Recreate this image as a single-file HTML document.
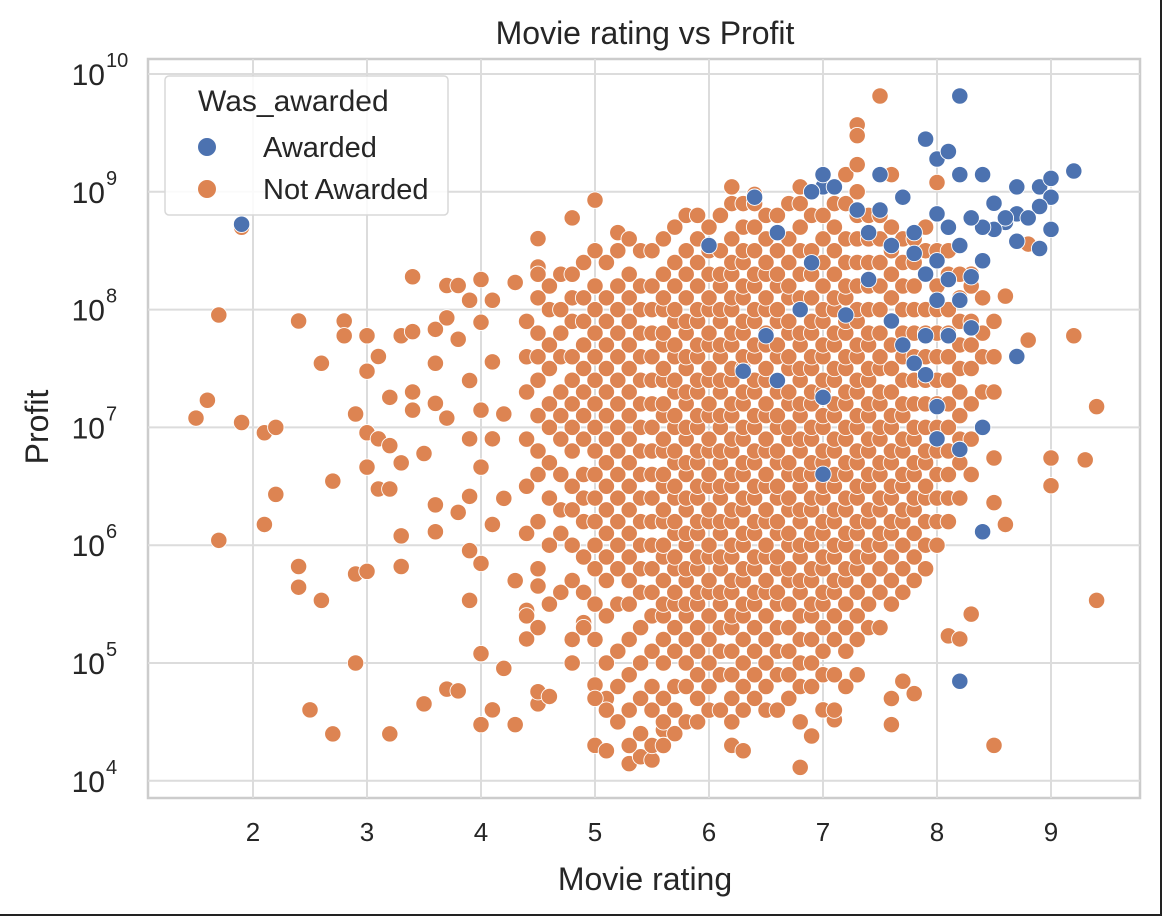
<!DOCTYPE html>
<html><head><meta charset="utf-8">
<style>
html,body{margin:0;padding:0;background:#fff;}
body{width:1162px;height:916px;overflow:hidden;font-family:"Liberation Sans",sans-serif;}
#frame{position:absolute;left:0;top:0;width:1160px;height:914px;border-right:2px solid #222;border-bottom:2px solid #222;}
</style></head><body>
<div id="frame"></div>
<svg id="chart" width="1162" height="916" style="position:absolute;left:0;top:0">
<text x="645" y="44" text-anchor="middle" font-size="32" fill="#262626">Movie rating vs Profit</text>
<text x="645" y="890" text-anchor="middle" font-size="32" fill="#262626">Movie rating</text>
<text x="0" y="0" transform="translate(48,427) rotate(-90)" text-anchor="middle" font-size="32" fill="#262626">Profit</text>
<g id="grid"></g><g id="marks"></g><g id="ticks"></g>
</svg>
<script>
const NS='http://www.w3.org/2000/svg';
const xTicks=[2,3,4,5,6,7,8,9];
const yTickExps=[4,5,6,7,8,9,10];
// outlier / sparse orange points
const orangeRating=[1.5,1.6,1.7,1.7,1.9,1.9,2.1,2.2,2.1,2.2,2.4,2.4,2.4,2.5,2.6,2.6,2.7,2.7,2.8,2.8,2.9,2.9,2.9,3.0,3.0,3.0,3.0,3.0,3.1,3.1,3.1,3.2,3.2,3.2,3.2,3.3,3.3,3.3,3.3,3.4,3.4,3.4,3.4,3.5,3.5,3.6,3.6,3.6,3.6,3.6,3.7,3.7,3.7,3.7,3.8,3.8,3.8,3.8,3.9,3.9,3.9,3.9,3.9,3.9,4.0,4.0,4.0,4.0,4.0,4.0,4.0,4.1,4.1,4.1,4.1,4.1,4.2,4.2,4.2,4.3,4.3,4.3,4.4,4.4,4.5,4.5,4.5,4.5,4.5,4.5,4.6,4.8,4.8,4.9,5.0,5.0,5.0,5.1,5.1,5.2,5.3,5.4,5.5,5.6,6.2,6.3,6.8,6.9,7.1,7.0,7.6,7.7,7.8,7.6,8.5,8.3,8.1,8.2,8.6,8.5,8.5,9.0,9.0,9.3,9.4,9.4,9.2,8.8,8.8,7.5,7.3,7.3,7.2,7.3,7.6,6.2,6.4,6.8,8.0,8.3,8.6];
const orangeProfit=[1.2e7,1.7e7,9e7,1.1e6,5e8,1.1e7,9e6,1e7,1.5e6,2.7e6,8e7,6.6e5,4.4e5,4e4,3.5e7,3.4e5,3.5e6,2.5e4,8e7,6e7,1.3e7,5.7e5,1e5,6e7,3e7,9e6,4.6e6,6e5,4e7,8e6,3e6,1.8e7,3e6,2.5e4,7e6,5e6,1.2e6,6.6e5,6e7,1.9e8,6.5e7,2e7,1.4e7,4.5e4,6e6,6.8e7,3.5e7,1.6e7,2.2e6,1.3e6,1.6e8,8.5e7,1.2e7,6e4,1.6e8,5.6e7,5.8e4,1.9e6,1.2e8,2.5e7,8e6,2.6e6,9e5,3.4e5,1.8e8,7.8e7,1.4e7,4.6e6,7e5,1.2e5,3e4,4e4,1.2e8,3.6e7,8e6,1.5e6,9e4,2.5e6,1.3e7,1.7e8,3e4,5e5,2.8e5,1.6e5,4e8,2.3e8,4.5e4,5.7e4,4.5e5,2e5,5.2e4,6e8,1e5,2.2e5,8.5e8,6.5e4,2e4,5e4,1.8e4,4.5e8,1.4e4,1.6e4,1.5e4,2.7e4,2e4,1.8e4,1.3e4,2.4e4,3.3e4,4e4,5e4,7e4,5.5e4,3e4,2e4,2.6e5,1.7e5,1.6e5,1.5e6,2.3e6,5.5e6,5.5e6,3.2e6,5.3e6,1.5e7,3.4e5,6e7,5.5e7,3.6e8,6.5e9,3.7e9,3e9,1.4e9,1.7e9,1.4e9,1.1e9,9.5e8,1.1e9,1.2e9,2e8,1.3e8];
// dense core columns (rating) and log10 profit lists
const coreRating=[4.4,4.5,4.6,4.7,4.8,4.9,5.0,5.1,5.2,5.3,5.4,5.5,5.6,5.7,5.8,5.9,6.0,6.1,6.2,6.3,6.4,6.5,6.6,6.7,6.8,6.9,7.0,7.1,7.2,7.3,7.4,7.5,7.6,7.7,7.8,7.9,8.0,8.1,8.2,8.3,8.4,8.5];
const coreLogProfit=[
[5.4,6.1,6.5,6.9,7.3,7.6,7.9],
[5.3,5.8,6.2,6.6,6.8,7.1,7.4,7.6,7.8,8.1,8.3],
[5.5,6.0,6.4,6.7,7.0,7.2,7.5,7.7,8.0,8.2],
[5.6,6.1,6.3,6.6,6.9,7.1,7.3,7.6,7.8,8.0,8.3],
[5.2,5.7,6.0,6.3,6.5,6.8,7.0,7.2,7.4,7.6,7.9,8.1,8.3],
[5.3,5.6,5.9,6.2,6.4,6.6,6.9,7.1,7.3,7.5,7.7,7.9,8.1,8.4],
[4.7,5.2,5.5,5.8,6.0,6.2,6.4,6.6,6.8,7.0,7.2,7.4,7.6,7.8,8.0,8.2,8.5],
[4.6,5.0,5.4,5.7,5.9,6.1,6.3,6.5,6.7,6.9,7.1,7.3,7.5,7.7,7.9,8.1,8.4],
[4.5,4.8,5.1,5.5,5.8,6.0,6.2,6.4,6.6,6.8,7.0,7.2,7.4,7.6,7.8,8.0,8.2,8.5],
[4.3,4.6,4.9,5.2,5.5,5.7,5.9,6.1,6.3,6.5,6.7,6.9,7.1,7.3,7.5,7.7,7.9,8.1,8.3,8.6],
[4.4,4.7,5.0,5.3,5.6,5.8,6.0,6.2,6.4,6.6,6.8,7.0,7.2,7.4,7.6,7.8,8.0,8.2,8.5],
[4.3,4.6,4.8,5.1,5.4,5.6,5.8,6.0,6.2,6.4,6.6,6.8,7.0,7.2,7.4,7.6,7.8,8.0,8.2,8.5],
[4.3,4.5,4.7,5.0,5.2,5.4,5.5,5.7,5.9,6.0,6.2,6.3,6.5,6.6,6.8,6.9,7.1,7.2,7.4,7.5,7.7,7.8,8.0,8.1,8.3,8.6],
[4.4,4.6,4.8,5.1,5.3,5.5,5.6,5.8,5.9,6.1,6.2,6.4,6.5,6.7,6.8,7.0,7.1,7.3,7.4,7.6,7.7,7.9,8.0,8.2,8.4,8.7],
[4.5,4.8,5.0,5.2,5.4,5.5,5.7,5.8,6.0,6.1,6.3,6.4,6.6,6.7,6.9,7.0,7.2,7.3,7.5,7.6,7.8,7.9,8.1,8.3,8.5,8.8],
[4.5,4.7,4.9,5.1,5.3,5.5,5.6,5.8,5.9,6.1,6.2,6.4,6.5,6.7,6.8,7.0,7.1,7.3,7.4,7.6,7.7,7.9,8.0,8.2,8.4,8.6,8.8],
[4.6,4.8,5.0,5.2,5.4,5.6,5.7,5.9,6.0,6.2,6.3,6.5,6.6,6.8,6.9,7.1,7.2,7.4,7.5,7.7,7.8,8.0,8.1,8.3,8.5,8.7],
[4.6,4.9,5.1,5.3,5.5,5.6,5.8,5.9,6.1,6.2,6.4,6.5,6.7,6.8,7.0,7.1,7.3,7.4,7.6,7.7,7.9,8.0,8.2,8.3,8.5,8.8],
[4.5,4.7,4.9,5.1,5.3,5.4,5.6,5.7,5.9,6.0,6.2,6.3,6.5,6.6,6.8,6.9,7.1,7.2,7.4,7.5,7.7,7.8,8.0,8.1,8.3,8.4,8.6,8.9],
[4.6,4.8,5.0,5.2,5.4,5.5,5.7,5.8,6.0,6.1,6.3,6.4,6.6,6.7,6.9,7.0,7.2,7.3,7.5,7.6,7.8,7.9,8.1,8.2,8.4,8.5,8.7,8.9],
[4.7,4.9,5.1,5.3,5.5,5.6,5.8,5.9,6.1,6.2,6.4,6.5,6.7,6.8,7.0,7.1,7.3,7.4,7.6,7.7,7.9,8.0,8.2,8.3,8.5,8.7,8.9],
[4.6,4.8,5.0,5.2,5.4,5.6,5.7,5.9,6.0,6.2,6.3,6.5,6.6,6.8,6.9,7.1,7.2,7.4,7.5,7.7,7.8,8.0,8.1,8.3,8.4,8.6,8.8],
[4.6,4.9,5.1,5.3,5.5,5.6,5.8,5.9,6.1,6.2,6.4,6.5,6.7,6.8,7.0,7.1,7.3,7.4,7.6,7.7,7.9,8.0,8.2,8.3,8.5,8.8],
[4.7,4.9,5.1,5.3,5.5,5.7,5.8,6.0,6.1,6.3,6.4,6.6,6.7,6.9,7.0,7.2,7.3,7.5,7.6,7.8,7.9,8.1,8.2,8.4,8.6,8.9],
[4.5,4.8,5.0,5.2,5.4,5.6,5.7,5.9,6.0,6.2,6.3,6.5,6.6,6.8,6.9,7.1,7.2,7.4,7.5,7.7,7.8,8.0,8.1,8.3,8.5,8.7,8.9],
[4.8,5.0,5.2,5.4,5.5,5.7,5.8,6.0,6.1,6.3,6.4,6.6,6.7,6.9,7.0,7.2,7.3,7.5,7.6,7.8,7.9,8.1,8.3,8.5,8.8],
[4.9,5.1,5.3,5.5,5.6,5.8,5.9,6.1,6.2,6.4,6.5,6.7,6.8,7.0,7.1,7.3,7.4,7.6,7.7,7.9,8.0,8.2,8.4,8.6,8.8],
[4.6,4.9,5.2,5.4,5.6,5.7,5.9,6.0,6.2,6.3,6.5,6.6,6.8,6.9,7.1,7.2,7.4,7.5,7.7,7.8,8.0,8.1,8.3,8.5,8.7,8.9],
[4.8,5.1,5.3,5.5,5.7,5.8,6.0,6.1,6.3,6.4,6.6,6.7,6.9,7.0,7.2,7.3,7.5,7.6,7.8,7.9,8.1,8.2,8.4,8.6,8.9],
[4.9,5.2,5.4,5.6,5.8,5.9,6.1,6.2,6.4,6.5,6.7,6.8,7.0,7.1,7.3,7.4,7.6,7.7,7.9,8.0,8.2,8.4,8.6,8.8,9.0],
[5.3,5.5,5.7,5.9,6.0,6.2,6.3,6.5,6.6,6.8,6.9,7.1,7.2,7.4,7.5,7.7,7.8,8.0,8.2,8.4,8.6,8.8],
[5.3,5.6,5.8,6.0,6.1,6.3,6.4,6.6,6.7,6.9,7.0,7.2,7.3,7.5,7.6,7.8,8.0,8.2,8.4,8.6,8.8],
[5.5,5.7,5.9,6.1,6.2,6.4,6.5,6.7,6.8,7.0,7.1,7.3,7.5,7.7,7.9,8.1,8.3,8.5,8.7],
[5.6,5.8,6.0,6.2,6.3,6.5,6.6,6.8,6.9,7.1,7.2,7.4,7.6,7.8,8.0,8.2,8.4,8.6],
[5.7,5.9,6.1,6.3,6.4,6.6,6.7,6.9,7.0,7.2,7.4,7.6,7.8,8.0,8.2,8.4,8.6],
[5.8,6.0,6.2,6.4,6.5,6.7,6.8,7.0,7.2,7.4,7.6,7.8,8.0,8.3,8.5,8.7],
[6.0,6.2,6.4,6.6,6.8,7.0,7.2,7.4,7.6,7.8,8.0,8.2,8.5],
[6.2,6.4,6.6,6.8,7.0,7.2,7.4,7.6,7.8,8.0,8.3,8.5],
[6.4,6.7,6.9,7.1,7.3,7.5,7.7,7.9,8.1,8.3],
[6.6,6.9,7.2,7.5,7.7,7.9,8.2],
[7.0,7.3,7.6,7.8,8.1],
[7.3,7.6,7.9]
];
const blueRating=[1.9,8.2,7.9,8.0,8.1,8.2,8.4,8.7,8.9,9.0,9.2,9.0,8.9,8.7,8.6,8.5,9.0,8.9,8.7,8.4,8.3,8.1,8.0,8.2,8.0,7.9,8.1,8.2,8.3,8.7,7.0,7.1,6.9,7.5,7.7,7.4,7.6,7.8,6.9,6.6,6.0,6.4,7.0,7.5,7.8,8.0,7.9,7.2,6.8,6.5,6.3,6.6,7.0,7.0,8.0,7.9,8.0,8.2,8.4,8.4,8.2,7.8,7.7,8.1,8.3,7.4,7.6,8.4,8.5,8.6,8.8,7.3];
const blueProfit=[5.3e8,6.5e9,2.8e9,1.9e9,2.2e9,1.4e9,1.4e9,1.1e9,1.1e9,1.3e9,1.5e9,9e8,7.5e8,6.5e8,5.5e8,4.8e8,4.8e8,3.3e8,3.8e8,5e8,6e8,5e8,6.5e8,3.5e8,2.6e8,2e8,1.8e8,1.2e8,7e7,4e7,1.1e9,1.1e9,1e9,7e8,9e8,4.5e8,3.5e8,3e8,2.5e8,4.5e8,3.5e8,9e8,1.4e9,1.4e9,4.5e8,1.2e8,6e7,9e7,1e8,6e7,3e7,2.5e7,1.8e7,4e6,8e6,2.8e7,1.5e7,6.5e6,1e7,1.3e6,7e4,3.5e7,5e7,6e7,1.9e8,1.8e8,8e7,2.6e8,8e8,6e8,6e8,7e8];

const X0=253, XS=114, Y10=74, YS=117.8;
const xPos=v=>X0+(v-2)*XS;
const yPos=p=>Y10+(10-Math.log10(p))*YS;
const L=148,R=1140,T=59,B=798;
const grid=document.getElementById('grid'),marks=document.getElementById('marks'),ticks=document.getElementById('ticks');
function mk(tag,attrs,parent){const e=document.createElementNS(NS,tag);for(const k in attrs)e.setAttribute(k,attrs[k]);parent.appendChild(e);return e;}
const bg=mk('rect',{x:L,y:T,width:R-L,height:B-T,fill:'#fff',stroke:'#cccccc','stroke-width':2.5},grid);


xTicks.forEach(v=>{
 const x=xPos(v);
 const g=mk('line',{x1:x,x2:x,y1:T,y2:B,stroke:'#dcdcdc','stroke-width':2},grid);
 
 
 const t=mk('text',{x:x,y:841,'text-anchor':'middle','font-size':26,fill:'#262626'},ticks);
 t.textContent=v;
 
 
});
yTickExps.forEach(e=>{
 const y=yPos(Math.pow(10,e));
 const g=mk('line',{x1:L,x2:R,y1:y,y2:y,stroke:'#dcdcdc','stroke-width':2},grid);
 
 
 const t=mk('text',{x:105,y:y+11,'text-anchor':'end','font-size':30,fill:'#262626'},ticks);
 t.textContent='10';
 
 
 const s=mk('text',{x:106,y:y-7,'text-anchor':'start','font-size':20,fill:'#262626'},ticks);
 s.textContent=String(e);
 
 
});
function dot(x,p,color,name){
 const c=mk('circle',{cx:xPos(x),cy:yPos(p),r:8.2,fill:color,stroke:'#fff','stroke-width':0.9},marks);
 
 
}
const OR='#dd8452',BL='#4c72b0';
orangeRating.forEach((r,i)=>dot(r,orangeProfit[i],OR,'point-not-awarded'));
coreRating.forEach((r,i)=>coreLogProfit[i].forEach(lp=>dot(r,Math.pow(10,lp),OR,'point-not-awarded')));
blueRating.forEach((r,i)=>dot(r,blueProfit[i],BL,'point-awarded'));
// legend
const lg=mk('g',{},ticks);


const lb=mk('rect',{x:165,y:76,width:283,height:139,rx:4,fill:'#fff','fill-opacity':0.85,stroke:'#d8d8d8','stroke-width':1.5},lg);


const lt=mk('text',{x:198,y:111,'font-size':30,fill:'#262626'},lg);
lt.textContent='Was_awarded';


[['Awarded',BL,147],['Not Awarded',OR,189]].forEach(([lab,col,y])=>{
 const c=mk('circle',{cx:207,cy:y,r:9.5,fill:col,stroke:'#fff','stroke-width':1},lg);
 
 
 const t=mk('text',{x:263,y:y+10,'font-size':29,fill:'#262626'},lg);
 t.textContent=lab;
 
 
});
</script>
</body></html>
